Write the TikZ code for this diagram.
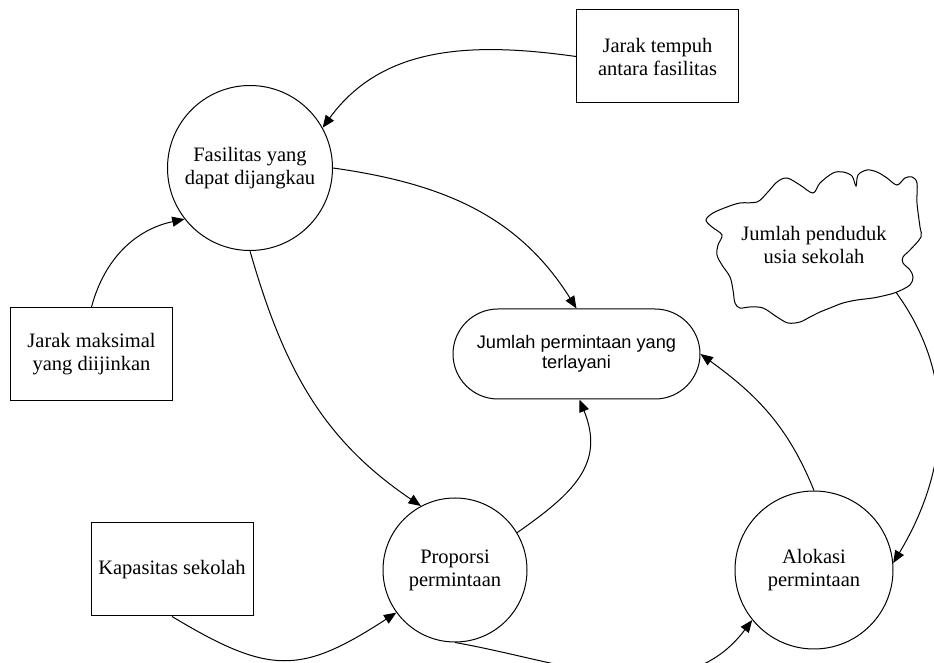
\documentclass[tikz,border=0pt]{standalone}
\usepackage{fontspec}
\setmainfont{Liberation Serif}
\setsansfont{Liberation Sans}
\usetikzlibrary{shapes.geometric, arrows.meta, positioning}

\begin{document}
\begin{tikzpicture}[x=0.5pt, y=0.5pt, line width=0.5pt,
  ext/.style={rectangle,draw,minimum width=81pt,minimum height=46.5pt,align=center,font=\fontsize{10.25}{11.5}\selectfont},
  proc/.style={circle,draw,inner sep=0pt,align=center,font=\fontsize{10.25}{11.5}\selectfont},
  res/.style={rectangle,draw,rounded corners=22.5pt,minimum width=123.5pt,minimum height=45pt,align=center,font=\sffamily\fontsize{9.1}{10.2}\selectfont},
  src/.style={ellipse,inner sep=0pt,minimum width=105pt,minimum height=75pt,align=center,font=\fontsize{10.25}{11.5}\selectfont},
  arr/.style={-{Triangle[length=6.2pt,width=5pt]}}
]
  \useasboundingbox (0,0) rectangle (934,-663);

  \node[ext] (tempuh) at (657.5,-56.5) {Jarak tempuh\\antara fasilitas};
  \node[proc, minimum size=82.5pt] (fasil) at (250,-168) {Fasilitas yang\\dapat dijangkau};
  \node[src] (pend) at (814,-245) {Jumlah penduduk\\usia sekolah};
  \node[res] (layan) at (576.5,-354) {Jumlah permintaan yang\\terlayani};
  \node[ext] (maks) at (91.5,-354) {Jarak maksimal\\yang diijinkan};
  \node[ext] (kap) at (172,-569.5) {Kapasitas sekolah};
  \node[proc, minimum size=72pt] (prop) at (455,-570) {Proporsi\\permintaan};
  \node[proc, minimum size=79pt] (alok) at (814,-570) {Alokasi\\permintaan};

  % awan penduduk
  \draw plot[smooth cycle, tension=0.55] coordinates {
    (706,-220) (713,-213) (727,-207) (740,-203) (757,-202) (767,-193) (777,-182)
    (787,-178) (800,-185) (813,-193) (820,-183) (833,-173) (843,-172) (852,-176)
    (856,-186) (858,-175) (867,-170) (877,-172) (887,-178) (897,-185) (905,-178)
    (912,-177) (917,-183) (917,-203) (920,-227) (921,-237) (910,-250) (903,-257)
    (903,-263) (910,-270) (913,-277) (910,-285) (897,-292) (887,-295) (873,-298)
    (857,-300) (843,-303) (830,-308) (820,-312) (810,-317) (800,-322) (788,-323)
    (777,-317) (763,-308) (750,-307) (740,-308) (735,-303) (733,-290) (730,-277)
    (722,-265) (717,-255) (718,-245) (722,-235) (712,-227)};

  \draw[arr] (tempuh.west) to[out=172, in=54] (fasil.29);
  \draw[arr] (maks.north) to[out=75, in=192] (fasil.218);
  \draw[arr] (fasil.east) to[out=-8, in=122] (layan.north);
  \draw[arr] (fasil.south) to[out=-74, in=146] (prop.118);
  \draw[arr] (kap.south) to[out=-31, in=213, looseness=1.3] (prop.216);
  \draw[arr] (prop.31) to[out=35, in=-68, looseness=1.2] ([xshift=1.5pt]layan.south);
  \draw[arr] (alok.north) to[out=112, in=-36] (layan.east);
  \draw[arr] (pend.-30) to[out=-54, in=59] (alok.5);
  \draw[arr] (prop.south) to[out=-10, in=233] (alok.219);
\end{tikzpicture}
\end{document}
